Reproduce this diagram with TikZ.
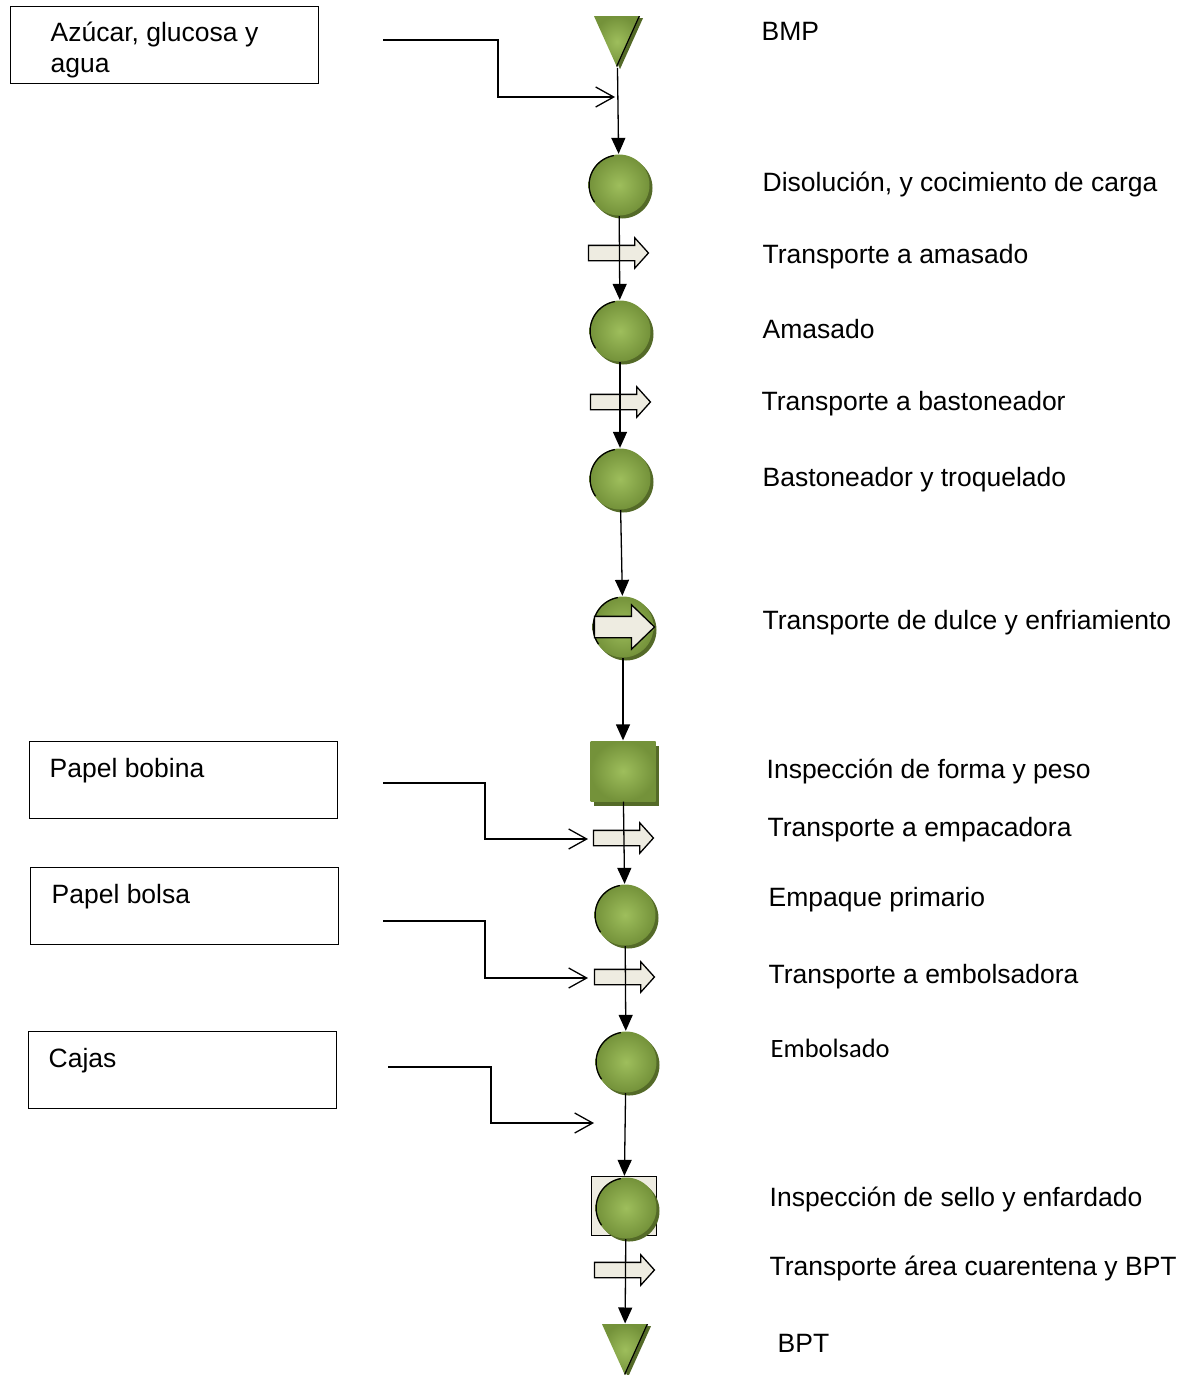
\documentclass[tikz,border=0pt]{standalone}
\usepackage{fontspec}
\setmainfont{Liberation Sans}
\newfontfamily\embfont{Carlito}
\usetikzlibrary{arrows.meta,shapes.geometric,shapes.arrows,shadows}

\definecolor{oliveIn}{RGB}{158,190,92}
\definecolor{oliveOut}{RGB}{116,146,58}
\definecolor{oliveShade}{RGB}{84,106,40}
\definecolor{paper}{RGB}{238,236,225}

\tikzset{
  op/.style={circle,minimum size=61pt,inner sep=0pt,inner color=oliveIn,outer color=oliveOut,
    general shadow={fill=oliveShade,shadow xshift=3pt,shadow yshift=-3pt},
    path picture={\draw[black,line width=2.5pt] (path picture bounding box.center) ++(100:30.5pt) arc (100:215:30.5pt);}},
  insp/.style={rectangle,minimum width=65pt,minimum height=60pt,inner sep=0pt,inner color=oliveIn,outer color=oliveOut,
    general shadow={fill=oliveShade,shadow xshift=3pt,shadow yshift=-5pt}},
  store/.style={isosceles triangle,isosceles triangle stretches,shape border rotate=270,
    minimum width=46pt,minimum height=51pt,inner sep=0pt,inner color=oliveIn,outer color=oliveOut,
    general shadow={fill=oliveShade,shadow xshift=3pt,shadow yshift=-2pt},
    path picture={\draw[black,line width=2.5pt] (path picture bounding box.north east) -- (path picture bounding box.south);}},
  transp/.style={single arrow,draw=black,line width=1.3pt,fill=paper,inner sep=0pt,
    text height=14pt,text depth=0pt,minimum height=60pt,single arrow head extend=7.5pt,single arrow tip angle=96},
  feed/.style={draw,line width=1pt,anchor=north west,minimum width=308pt,minimum height=77pt,inner sep=0pt},
  lbl/.style={anchor=base west,inner sep=0pt},
  feedline/.style={line width=1.3pt,-{Straight Barb[length=18pt,width=20pt]}}
}

\begin{document}
\begin{tikzpicture}[x=1pt,y=-1pt,line width=1.3pt,>={Triangle[length=16pt,width=14pt]},
  font=\fontsize{26.5}{28}\selectfont]
\useasboundingbox (0,0) rectangle (1191,1375);

% main line
\node[store] (bmp) at (617,31) {};
\node[op] (c1) at (619,185) {};
\node[transp] (t1) at (615,253) {};
\node[op] (c2) at (620,331) {};
\node[transp] (t2) at (617,402) {};
\node[op] (c3) at (620,479) {};
\node[op] (c4) at (623,627) {};
\node[transp,text height=20pt,single arrow head extend=11.5pt,single arrow tip angle=88] (t4in) at (619,627) {};
\node[insp] (sq1) at (623,771) {};
\node[transp] (t3) at (620,838) {};
\node[op] (c5) at (625,915) {};
\node[transp] (t4) at (621,977) {};
\node[op] (c6) at (626,1062) {};
\node[draw,fill=paper,line width=1.3pt,minimum width=65pt,minimum height=59pt,inner sep=0pt] (sq2) at (624,1206) {};
\node[op] (c7) at (626,1208) {};
\node[transp] (t5) at (621,1270) {};
\node[store] (bpt) at (625,1339) {};

\path[->] (bmp) edge (c1)
          (c1) edge (c2)
          (c2) edge (c3)
          (c3) edge (c4)
          (c4) edge (sq1)
          (sq1) edge (c5)
          (c5) edge (c6)
          (c6) edge (sq2)
          (c7) edge (bpt);

% inputs
\node[feed] (b1) at (10,6) {};
\node[lbl,align=left] (b1t) at (50,73) {Azúcar, glucosa y\\[3pt]agua};
\node[feed] (b2) at (29,741) {};
\node[lbl] (b2t) at (49,777) {Papel bobina};
\node[feed] (b3) at (30,867) {};
\node[lbl] (b3t) at (51,903) {Papel bolsa};
\node[feed] (b4) at (28,1031) {};
\node[lbl] (b4t) at (48,1067) {Cajas};

\coordinate (f1s) at (383,40);   \coordinate (f1e) at (615,97);
\coordinate (f2s) at (383,783);  \coordinate (f2e) at (588,839);
\coordinate (f3s) at (383,921);  \coordinate (f3e) at (588,978);
\coordinate (f4s) at (388,1067); \coordinate (f4e) at (594,1123);
\draw[feedline] (f1s) -- ++(115,0) |- (f1e);
\draw[feedline] (f2s) -- ++(102,0) |- (f2e);
\draw[feedline] (f3s) -- ++(102,0) |- (f3e);
\draw[feedline] (f4s) -- ++(103,0) |- (f4e);

% labels
\node[lbl] (l1) at (761,41) {BMP};
\node[lbl] (l2) at (762,192) {Disolución, y cocimiento de carga};
\node[lbl] (l3) at (762,263) {Transporte a amasado};
\node[lbl] (l4) at (762,338) {Amasado};
\node[lbl] (l5) at (761,410) {Transporte a bastoneador};
\node[lbl] (l6) at (762,486) {Bastoneador y troquelado};
\node[lbl] (l7) at (762,629) {Transporte de dulce y enfriamiento};
\node[lbl] (l8) at (766,778) {Inspección de forma y peso};
\node[lbl] (l9) at (767,836) {Transporte a empacadora};
\node[lbl] (l10) at (768,906) {Empaque primario};
\node[lbl] (l11) at (768,983) {Transporte a embolsadora};
\node[lbl,font=\embfont\fontsize{26.5}{28}\selectfont] (l12) at (770,1057) {Embolsado};
\node[lbl] (l13) at (769,1206) {Inspección de sello y enfardado};
\node[lbl] (l14) at (769,1275) {Transporte área cuarentena y BPT};
\node[lbl] (l15) at (777,1352) {BPT};
\end{tikzpicture}
\end{document}
